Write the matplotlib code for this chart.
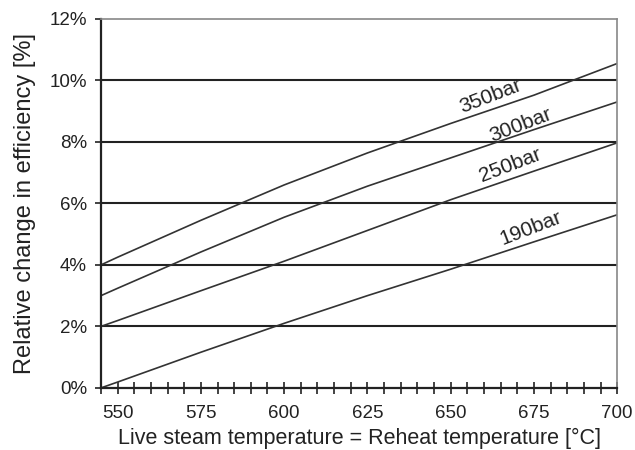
import matplotlib.pyplot as plt
import numpy as np

plt.rcParams['font.family'] = ['Liberation Sans', 'DejaVu Sans']

# temperature [degC]
temps = [545, 550, 575, 600, 625, 650, 675, 700]

# relative change in efficiency [%] per live steam pressure
eff_350 = [4.0, 4.25, 5.45, 6.6, 7.64, 8.6, 9.52, 10.55]
eff_300 = [3.0, 3.24, 4.42, 5.55, 6.56, 7.48, 8.4, 9.3]
eff_250 = [2.0, 2.19, 3.16, 4.12, 5.12, 6.12, 7.05, 7.97]
eff_190 = [0.0, 0.19, 1.16, 2.1, 3.0, 3.86, 4.75, 5.63]

labels = ['350bar', '300bar', '250bar', '190bar']
label_x = [662, 671, 668, 674]
label_y = [9.5, 8.55, 7.25, 5.2]

fig = plt.figure(figsize=(6.35, 4.5), dpi=100)
ax = fig.add_axes([0.159, 0.138, 0.813, 0.82])

# horizontal grid
for g in [2, 4, 6, 8, 10]:
    ax.axhline(g, color='#222222', lw=1.5, zorder=1)

for e in [eff_350, eff_300, eff_250, eff_190]:
    ax.plot(temps, e, color='#333333', lw=1.2, zorder=2)

for t, x, y in zip(labels, label_x, label_y):
    ax.text(x, y, t, rotation=21, ha='center', va='center', fontsize=15,
            color='#222222', rotation_mode='anchor')

ax.set_xlim(545, 700)
ax.set_ylim(0, 12)
ax.set_xticks([550, 575, 600, 625, 650, 675, 700])
ax.set_xticks(np.arange(545, 701, 5), minor=True)
ax.set_yticks([0, 2, 4, 6, 8, 10, 12])
ax.set_yticklabels([f'{v}%' for v in [0, 2, 4, 6, 8, 10, 12]])

ax.tick_params(axis='x', which='both', direction='inout', length=9, width=1.2,
               labelsize=13.5, colors='#222222', pad=8)
ax.tick_params(axis='y', direction='out', length=4, width=1.2,
               labelsize=13.5, colors='#222222', pad=6)

for s in ['left', 'bottom']:
    ax.spines[s].set_linewidth(1.6)
    ax.spines[s].set_color('#222222')
for s in ['top', 'right']:
    ax.spines[s].set_linewidth(1.2)
    ax.spines[s].set_color('#888888')

ax.set_xlabel('Live steam temperature = Reheat temperature [°C]', fontsize=15.5,
              color='#222222', labelpad=4)
ax.set_ylabel('Relative change in efficiency [%]', fontsize=17, color='#222222',
              labelpad=10)

plt.savefig('out.png', dpi=100)
